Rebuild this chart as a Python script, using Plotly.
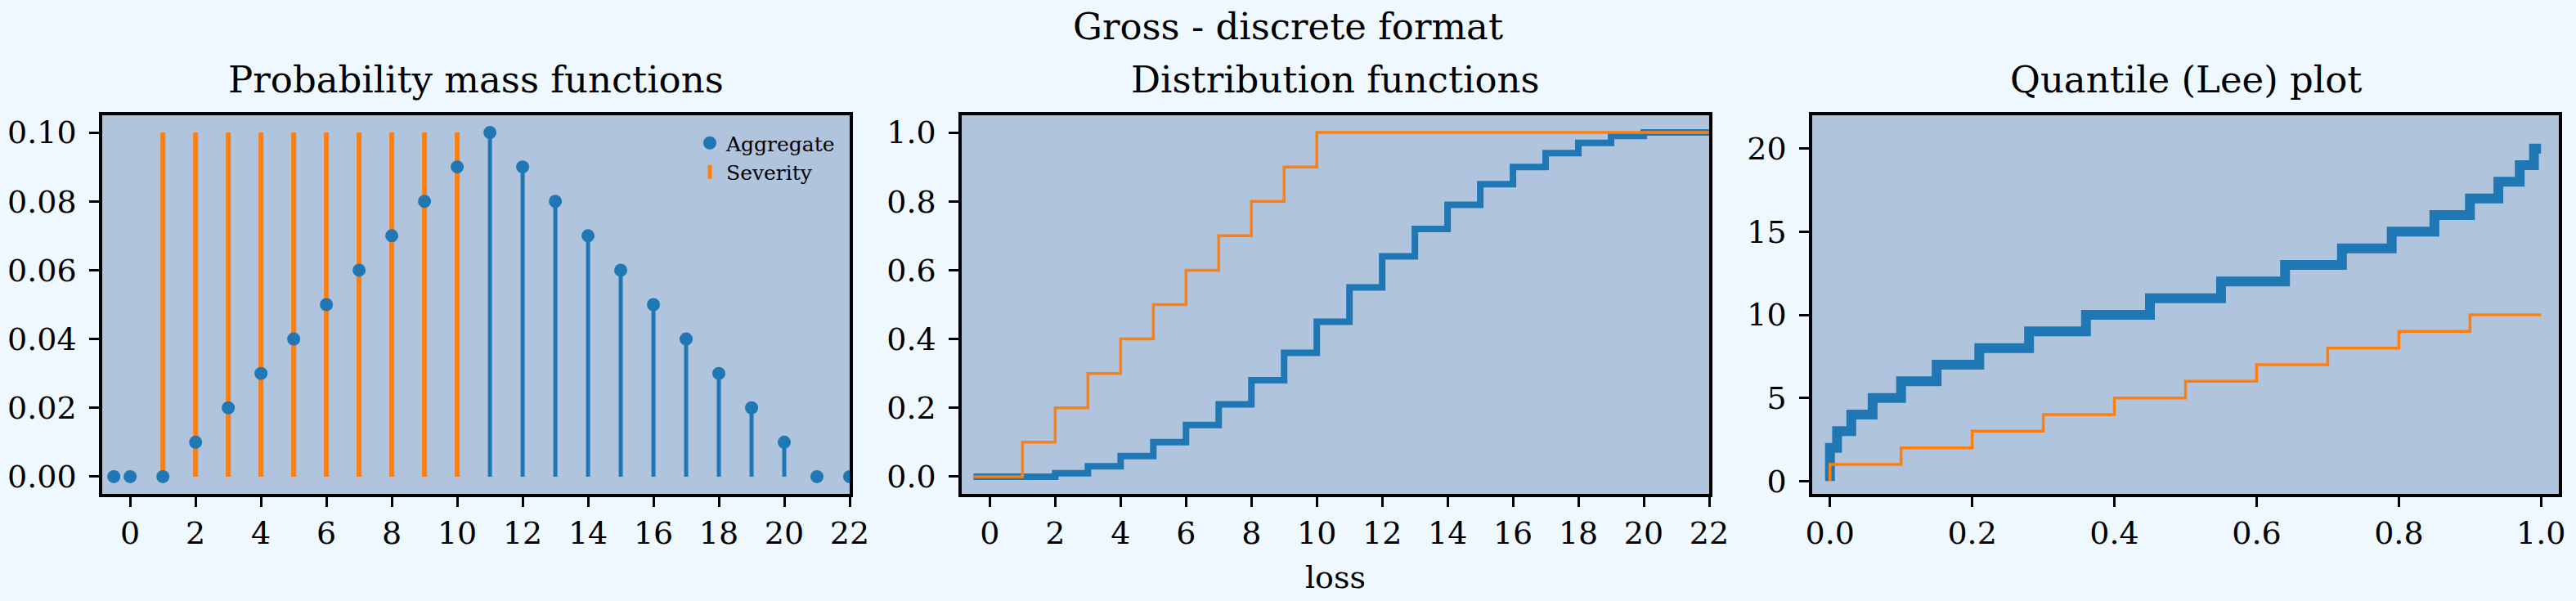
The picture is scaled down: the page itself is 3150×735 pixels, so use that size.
import plotly.graph_objects as go

# ---------------- data ----------------
agg_x = [-0.5, 0, 1, 2, 3, 4, 5, 6, 7, 8, 9, 10, 11, 12, 13, 14, 15, 16, 17, 18, 19, 20, 21, 22]
agg_pmf = [0.0, 0.0, 0.0, 0.01, 0.02, 0.03, 0.04, 0.05, 0.06, 0.07, 0.08, 0.09, 0.10,
           0.09, 0.08, 0.07, 0.06, 0.05, 0.04, 0.03, 0.02, 0.01, 0.0, 0.0]
sev_x = [1, 2, 3, 4, 5, 6, 7, 8, 9, 10]
sev_pmf = [0.1, 0.1, 0.1, 0.1, 0.1, 0.1, 0.1, 0.1, 0.1, 0.1]

agg_cdf_x = [-0.5, 0, 1, 2, 3, 4, 5, 6, 7, 8, 9, 10, 11, 12, 13, 14, 15, 16, 17, 18, 19, 20, 21, 22]
agg_cdf = [0.0, 0.0, 0.0, 0.01, 0.03, 0.06, 0.10, 0.15, 0.21, 0.28, 0.36, 0.45, 0.55,
           0.64, 0.72, 0.79, 0.85, 0.90, 0.94, 0.97, 0.99, 1.0, 1.0, 1.0]
sev_cdf_x = [-0.5, 0, 1, 2, 3, 4, 5, 6, 7, 8, 9, 10, 22]
sev_cdf = [0.0, 0.0, 0.1, 0.2, 0.3, 0.4, 0.5, 0.6, 0.7, 0.8, 0.9, 1.0, 1.0]

agg_lee_p = [0.0, 0.0, 0.01, 0.03, 0.06, 0.10, 0.15, 0.21, 0.28, 0.36, 0.45, 0.55,
             0.64, 0.72, 0.79, 0.85, 0.90, 0.94, 0.97, 0.99, 1.0]
agg_lee_q = [0, 2, 3, 4, 5, 6, 7, 8, 9, 10, 11, 12, 13, 14, 15, 16, 17, 18, 19, 20, 20]
sev_lee_p = [0.0, 0.0, 0.1, 0.2, 0.3, 0.4, 0.5, 0.6, 0.7, 0.8, 0.9, 1.0]
sev_lee_q = [0, 1, 2, 3, 4, 5, 6, 7, 8, 9, 10, 10]

suptitle = "Gross - discrete format"
subtitles = ["Probability mass functions", "Distribution functions", "Quantile (Lee) plot"]

# ---------------- style ----------------
BLUE = "#1f77b4"
ORANGE = "#ff7f0e"
FONT = "DejaVu Serif"
W, H = 3150, 735

def stems(xs, ys):
    sx, sy = [], []
    for x, y in zip(xs, ys):
        sx += [x, x, None]
        sy += [0, y, None]
    return sx, sy

fig = go.Figure()

# Panel 1: pmf
bx, by = stems(agg_x, agg_pmf)
fig.add_trace(go.Scatter(x=bx, y=by, mode="lines", line=dict(color=BLUE, width=5),
                         showlegend=False, xaxis="x", yaxis="y", hoverinfo="skip"))
ox, oy = stems(sev_x, sev_pmf)
fig.add_trace(go.Scatter(x=ox, y=oy, mode="lines", line=dict(color=ORANGE, width=6),
                         showlegend=False, xaxis="x", yaxis="y", hoverinfo="skip"))
fig.add_trace(go.Scatter(x=agg_x, y=agg_pmf, mode="markers", name="Aggregate",
                         marker=dict(color=BLUE, size=16), xaxis="x", yaxis="y"))
fig.add_trace(go.Scatter(x=[None], y=[None], mode="markers", name="Severity",
                         marker=dict(color=ORANGE, size=12, symbol="line-ns",
                                     line=dict(color=ORANGE, width=6)),
                         xaxis="x", yaxis="y"))

# Panel 2: cdf
fig.add_trace(go.Scatter(x=agg_cdf_x, y=agg_cdf, mode="lines", line=dict(color=BLUE, width=8, shape="hv"),
                         showlegend=False, xaxis="x2", yaxis="y2"))
fig.add_trace(go.Scatter(x=sev_cdf_x, y=sev_cdf, mode="lines", line=dict(color=ORANGE, width=3.5, shape="hv"),
                         showlegend=False, xaxis="x2", yaxis="y2"))

# Panel 3: Lee
fig.add_trace(go.Scatter(x=agg_lee_p, y=agg_lee_q, mode="lines", line=dict(color=BLUE, width=12, shape="hv"),
                         showlegend=False, xaxis="x3", yaxis="y3"))
fig.add_trace(go.Scatter(x=sev_lee_p, y=sev_lee_q, mode="lines", line=dict(color=ORANGE, width=3.5, shape="hv"),
                         showlegend=False, xaxis="x3", yaxis="y3"))

ydom = [1 - 604 / H, 1 - 141 / H]
xdoms = [[125 / W, 1039 / W], [1176 / W, 2090 / W], [2216 / W, 3129 / W]]

def ax(domain, rng, xaxis=True, **kw):
    d = dict(domain=domain, range=rng, showline=True, mirror=True, linecolor="black",
             linewidth=3.5, ticks="outside", ticklen=12, tickwidth=3, tickcolor="black",
             showgrid=False, zeroline=False, automargin=False,
             ticklabelstandoff=0 if xaxis else 8,
             tickfont=dict(family=FONT, size=38, color="black"))
    d.update(kw)
    return d

layout = dict(
    width=W, height=H,
    margin=dict(l=0, r=0, t=0, b=0),
    paper_bgcolor="#f0f8ff",
    plot_bgcolor="#b0c4de",
    template="none",
    font=dict(family=FONT, color="black"),
    title=dict(text=suptitle, x=0.5, xanchor="center", y=1 - 32 / H, yanchor="middle",
               yref="container", font=dict(family=FONT, size=45, color="black")),
    showlegend=True,
    legend=dict(x=848 / W, y=1 - 152 / H, xanchor="left", yanchor="top", bgcolor="rgba(0,0,0,0)",
                font=dict(family=FONT, size=25, color="black"), itemsizing="trace",
                tracegroupgap=0),
    xaxis=ax(xdoms[0], [-0.855, 22], anchor="y", tick0=0, dtick=2),
    yaxis=ax(ydom, [-0.005, 0.105], xaxis=False, anchor="x", tick0=0, dtick=0.02, tickformat=".2f"),
    xaxis2=ax(xdoms[1], [-0.86, 22], anchor="y2", tick0=0, dtick=2,
              title=dict(text="loss", font=dict(family=FONT, size=38, color="black"), standoff=20)),
    yaxis2=ax(ydom, [-0.05, 1.05], xaxis=False, anchor="x2", tick0=0, dtick=0.2, tickformat=".1f"),
    xaxis3=ax(xdoms[2], [-0.025, 1.025], anchor="y3", tick0=0, dtick=0.2, tickformat=".1f"),
    yaxis3=ax(ydom, [-0.77, 22.0], xaxis=False, anchor="x3", tick0=0, dtick=5),
)
fig.update_layout(**layout)

for i, t in enumerate(subtitles):
    fig.add_annotation(text=t, xref="paper", yref="paper", x=(xdoms[i][0] + xdoms[i][1]) / 2,
                       y=1 - 97 / H, xanchor="center", yanchor="middle", showarrow=False,
                       font=dict(family=FONT, size=45, color="black"))

fig.write_html("out.html")
